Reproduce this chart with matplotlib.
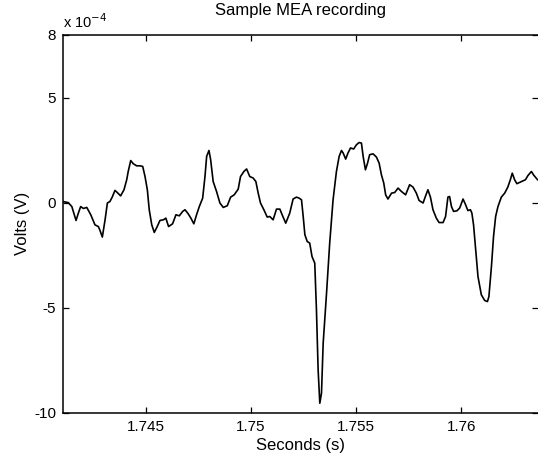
import matplotlib
matplotlib.use("Agg")
import matplotlib.pyplot as plt
import numpy as np

plt.rcParams['font.family'] = ['Liberation Sans', 'DejaVu Sans']
plt.rcParams['axes.unicode_minus'] = False

# time (s) and voltage (x 1e-4 V)
seconds = [
    1.74107, 1.74132, 1.74149, 1.74169, 1.74180, 1.74191, 1.74204, 1.74220,
    1.74239, 1.74259, 1.74275, 1.74283, 1.74294, 1.74307, 1.74318, 1.74330,
    1.74341, 1.74354, 1.74365, 1.74381, 1.74397, 1.74410, 1.74417, 1.74429,
    1.74441, 1.74457, 1.74473, 1.74486, 1.74497, 1.74508, 1.74517, 1.74529,
    1.74541, 1.74555, 1.74568, 1.74584, 1.74596, 1.74609, 1.74628, 1.74644,
    1.74660, 1.74676, 1.74687, 1.74702, 1.74715, 1.74729, 1.74742, 1.74755,
    1.74771, 1.74782, 1.74790, 1.74801, 1.74809, 1.74821, 1.74837, 1.74853,
    1.74869, 1.74888, 1.74904, 1.74921, 1.74940, 1.74951, 1.74967, 1.74980,
    1.74995, 1.75011, 1.75024, 1.75035, 1.75046, 1.75062, 1.75078, 1.75090,
    1.75106, 1.75122, 1.75138, 1.75151, 1.75166, 1.75185, 1.75201, 1.75217,
    1.75230, 1.75241, 1.75249, 1.75257, 1.75268, 1.75280, 1.75291, 1.75304,
    1.75312, 1.75320, 1.75328, 1.75336, 1.75344, 1.75360, 1.75375, 1.75391,
    1.75407, 1.75420, 1.75431, 1.75439, 1.75451, 1.75462, 1.75474, 1.75489,
    1.75502, 1.75515, 1.75526, 1.75534, 1.75545, 1.75555, 1.75565, 1.75581,
    1.75597, 1.75610, 1.75621, 1.75632, 1.75641, 1.75652, 1.75669, 1.75684,
    1.75700, 1.75716, 1.75736, 1.75755, 1.75771, 1.75787, 1.75800, 1.75819,
    1.75831, 1.75842, 1.75854, 1.75866, 1.75882, 1.75895, 1.75914, 1.75926,
    1.75937, 1.75945, 1.75954, 1.75964, 1.75980, 1.75993, 1.76009, 1.76021,
    1.76032, 1.76044, 1.76051, 1.76059, 1.76069, 1.76080, 1.76096, 1.76112,
    1.76125, 1.76132, 1.76144, 1.76154, 1.76164, 1.76175, 1.76191, 1.76207,
    1.76222, 1.76234, 1.76243, 1.76254, 1.76265, 1.76286, 1.76306, 1.76317,
    1.76334, 1.76344, 1.76363,
]
volts_e4 = [
    0.05, 0.00, -0.19, -0.85, -0.50, -0.19, -0.28, -0.23,
    -0.58, -1.06, -1.14, -1.33, -1.64, -0.82, -0.02, 0.05,
    0.26, 0.58, 0.48, 0.32, 0.61, 1.09, 1.48, 2.00,
    1.85, 1.75, 1.75, 1.72, 1.24, 0.61, -0.34, -1.06,
    -1.42, -1.14, -0.85, -0.82, -0.74, -1.14, -1.01, -0.58,
    -0.63, -0.42, -0.34, -0.53, -0.74, -1.01, -0.58, -0.19,
    0.21, 1.24, 2.20, 2.48, 2.04, 1.00, 0.53, -0.02,
    -0.23, -0.15, 0.26, 0.37, 0.64, 1.24, 1.48, 1.60,
    1.24, 1.17, 1.00, 0.45, -0.02, -0.34, -0.69, -0.66,
    -0.82, -0.31, -0.31, -0.63, -0.98, -0.50, 0.17, 0.26,
    0.21, 0.13, -0.66, -1.53, -1.85, -1.93, -2.57, -2.88,
    -5.10, -7.96, -9.55, -9.07, -6.69, -4.31, -1.93, 0.13,
    1.48, 2.20, 2.48, 2.36, 2.07, 2.36, 2.60, 2.55,
    2.75, 2.86, 2.83, 2.20, 1.56, 1.88, 2.28, 2.32,
    2.17, 1.88, 1.32, 0.93, 0.37, 0.17, 0.45, 0.48,
    0.69, 0.53, 0.37, 0.85, 0.74, 0.45, 0.10, -0.02,
    0.32, 0.61, 0.26, -0.34, -0.74, -0.95, -0.95, -0.66,
    0.26, 0.29, -0.19, -0.42, -0.39, -0.26, 0.17, -0.10,
    -0.38, -0.34, -0.50, -1.06, -2.25, -3.52, -4.39, -4.66,
    -4.71, -4.47, -3.04, -1.61, -0.66, -0.19, 0.26, 0.45,
    0.74, 1.09, 1.40, 1.09, 0.90, 1.00, 1.09, 1.28,
    1.48, 1.32, 1.09,
]
x_ticks = [1.745, 1.75, 1.755, 1.76]
x_tick_labels = ['1.745', '1.75', '1.755', '1.76']
y_ticks = [-10, -5, 0, 5, 8]

fig = plt.figure(figsize=(5.38, 4.53), dpi=100)
ax = fig.add_axes([63 / 538, 40.3 / 453, 474.5 / 538, 378.2 / 453])

ax.plot(seconds, volts_e4, color='black', lw=1.2, solid_joinstyle='round')

ax.set_xlim(seconds[0], seconds[-1])
ax.set_ylim(-10, 8)
ax.set_xticks(x_ticks)
ax.set_xticklabels(x_tick_labels)
ax.set_yticks(y_ticks)
ax.tick_params(direction='in', top=True, right=True, length=4, width=0.9,
               labelsize=11, pad=5)
for s in ax.spines.values():
    s.set_linewidth(1.1)
ax.spines['right'].set_visible(False)

ax.set_title('Sample MEA recording', fontsize=12, pad=14)
ax.set_xlabel('Seconds (s)', fontsize=12, labelpad=3)
ax.set_ylabel('Volts (V)', fontsize=12, labelpad=3)
ax.text(0.0, 1.01, r'x 10$^{-4}$', transform=ax.transAxes,
        fontsize=10.5, ha='left', va='bottom')

fig.savefig('out.png', dpi=100)
